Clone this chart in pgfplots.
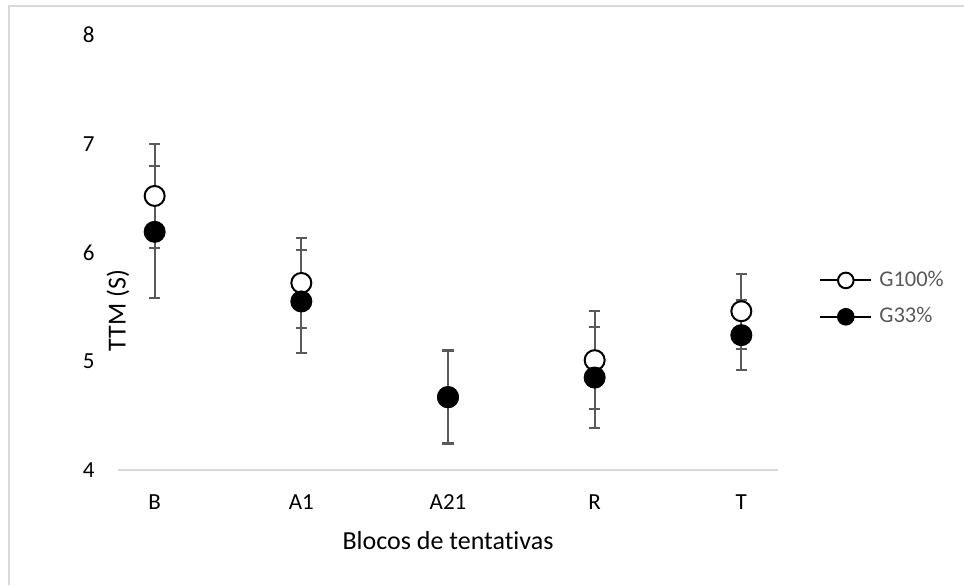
\documentclass[border=0pt]{standalone}
\usepackage{pgfplots}
\pgfplotsset{compat=1.18}
\usepackage{pgfplotstable}
\usepackage{fontspec}
\setmainfont{Carlito}[Ligatures=NoCommon]
\definecolor{axisgrey}{HTML}{D9D9D9}
\definecolor{bargrey}{HTML}{5A5A5A}
\definecolor{legtext}{HTML}{595959}

\pgfplotstableread{
x y err
0 6.52 0.48
1 5.72 0.41
2 4.67 0.42
3 5.01 0.45
4 5.46 0.345
}\gcem

\pgfplotstableread{
x y err
0 6.19 0.61
1 5.55 0.47
2 4.67 0.43
3 4.85 0.465
4 5.24 0.325
}\gtt

\begin{document}
\begin{tikzpicture}
\useasboundingbox (0,0) rectangle (482pt,292.5pt);
\draw[axisgrey, line width=0.75pt] (4.5pt,0) -- (4.5pt,289.5pt) -- (482pt,289.5pt);
\begin{axis}[
  at={(59pt,57.5pt)}, anchor=south west,
  scale only axis,
  width=330pt, height=217.5pt,
  xmin=-0.25, xmax=4.25,
  ymin=4, ymax=8,
  xtick={0,1,2,3,4},
  xticklabels={B,A1,A21,R,T},
  ytick={4,5,6,7,8},
  axis x line=bottom,
  axis y line=left,
  y axis line style={draw=none},
  x axis line style={color=axisgrey, line width=0.75pt, -},
  major tick length=0pt,
  tick style={draw=none},
  /pgf/number format/assume math mode=true,
  ticklabel style={font=\fontsize{11.5}{13.5}\selectfont, text=black},
  yticklabel style={inner sep=0pt, anchor=east, xshift=-11.5pt},
  xticklabel style={inner sep=0pt, anchor=center, yshift=-16pt},
  xlabel={Blocos de tentativas},
  ylabel={TTM (S)},
  every axis x label/.style={at={(axis description cs:0.5,0)}, anchor=center, yshift=-35.5pt, font=\fontsize{13}{15}\selectfont},
  every axis y label/.style={at={(axis description cs:0,0.5)}, anchor=center, rotate=90, xshift=-29pt, font=\fontsize{13}{15}\selectfont},
  legend style={at={(rel axis cs:1.062,0.394)}, anchor=west, draw=none, fill=none, inner sep=0pt,
    font=\fontsize{11.25}{13}\selectfont, text=legtext, row sep=9pt,
    nodes={inner sep=0pt, anchor=west}},
  legend cell align=left,
  /tikz/every odd column/.append style={column sep=3.5pt},
  clip=false,
]
% error bars first (behind all markers)
\addplot[only marks, mark=none, forget plot,
  error bars/.cd, y dir=both, y explicit,
  error bar style={color=bargrey, line width=1pt},
  error mark options={rotate=90, mark size=2.85pt, line width=1pt, color=bargrey}]
  table[x=x, y=y, y error=err] {\gcem};
\addplot[only marks, mark=none, forget plot,
  error bars/.cd, y dir=both, y explicit,
  error bar style={color=bargrey, line width=1pt},
  error mark options={rotate=90, mark size=2.85pt, line width=1pt, color=bargrey}]
  table[x=x, y=y, y error=err] {\gtt};
% markers
\addplot[only marks, mark=*, mark size=5pt, mark options={draw=black, fill=white, line width=1pt},
  legend image code/.code={
    \draw[black, line width=1pt] (0pt,0pt) -- (25.5pt,0pt);
    \draw[black, fill=white, line width=1pt] (12.75pt,0pt) circle (3.9pt);}]
  table[x=x, y=y] {\gcem};
\addlegendentry{G100\%}
\addplot[only marks, mark=*, mark size=5pt, mark options={draw=black, fill=black, line width=1pt},
  legend image code/.code={
    \draw[black, line width=1pt] (0pt,0pt) -- (25.5pt,0pt);
    \draw[black, fill=black, line width=1pt] (12.75pt,0pt) circle (3.9pt);}]
  table[x=x, y=y] {\gtt};
\addlegendentry{G33\%}
\end{axis}
\end{tikzpicture}
\end{document}
